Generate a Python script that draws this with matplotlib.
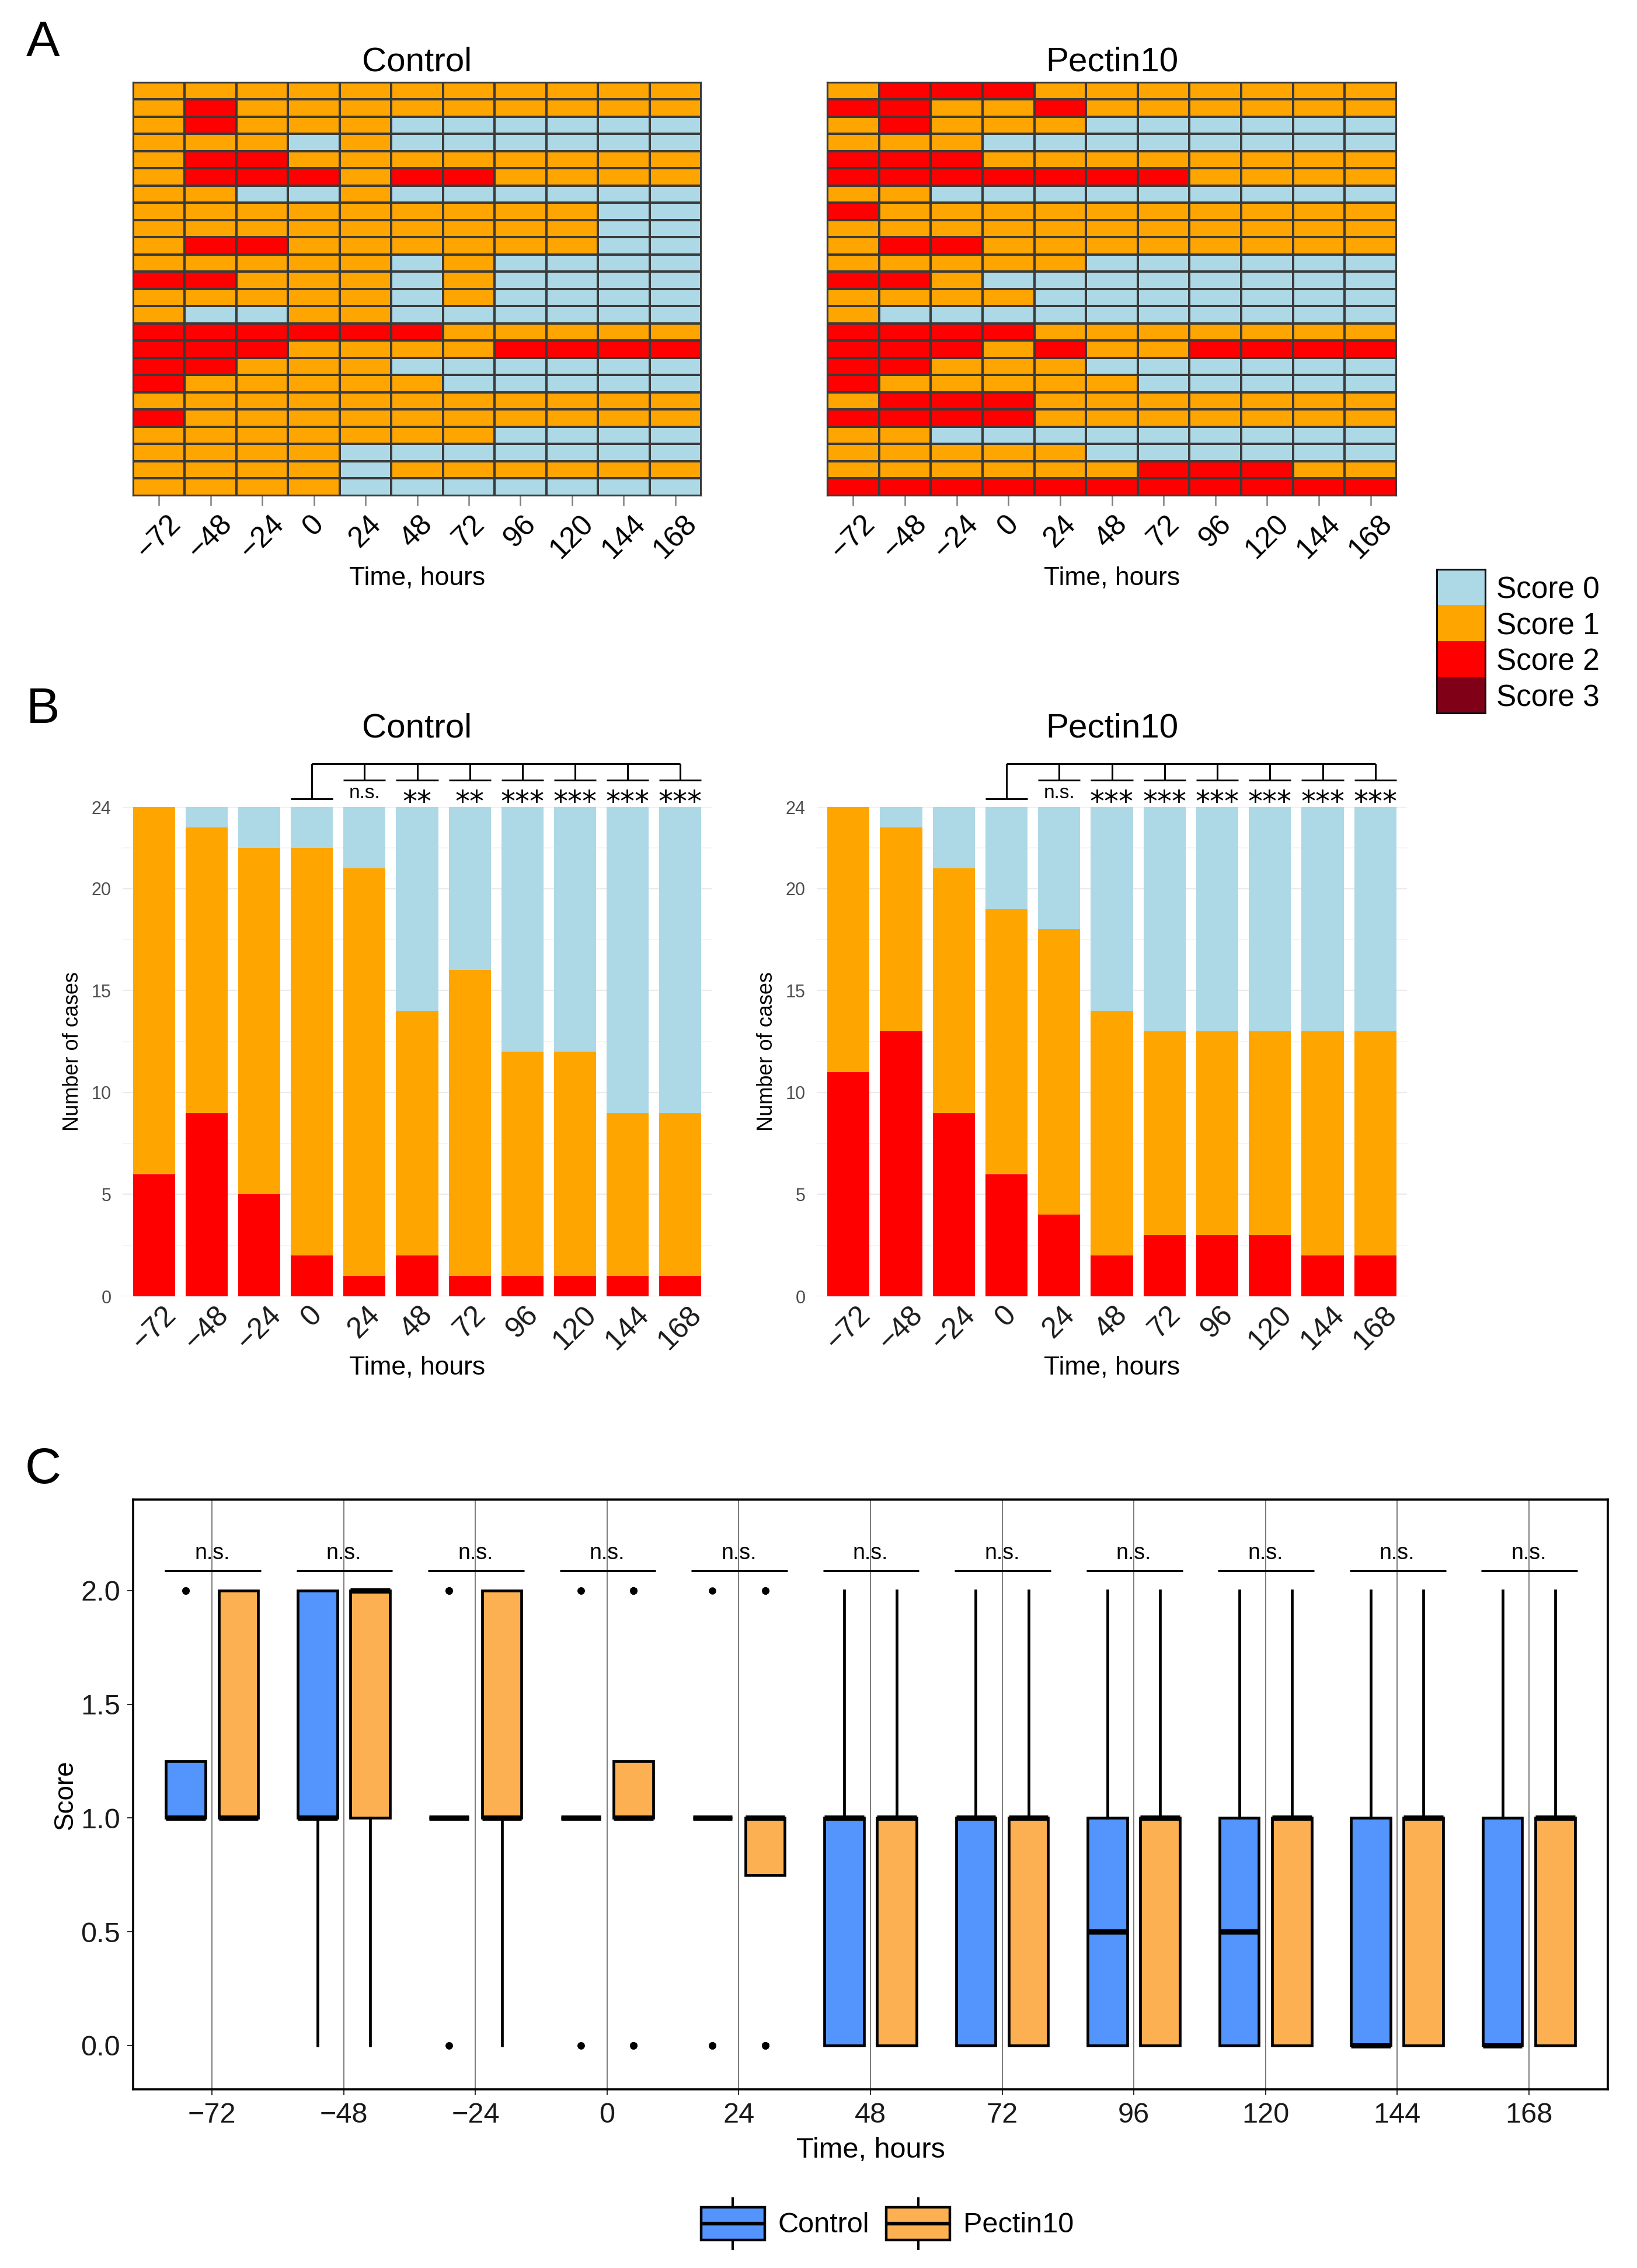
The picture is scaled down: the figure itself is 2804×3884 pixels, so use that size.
import numpy as np
import matplotlib
matplotlib.use("Agg")
import matplotlib.pyplot as plt
from matplotlib.colors import ListedColormap
from matplotlib.patches import Rectangle
from matplotlib.lines import Line2D
from matplotlib.legend_handler import HandlerBase

plt.rcParams['font.family'] = ['Liberation Sans', 'DejaVu Sans']

# ---------------- data ----------------
time_labels = ['\u221272', '\u221248', '\u221224', '0', '24', '48', '72', '96', '120', '144', '168']
group_names = ['Control', 'Pectin10']
score_labels = ['Score 0', 'Score 1', 'Score 2', 'Score 3']
score_colors = ['#ADD8E6', '#FFA500', '#FF0000', '#800018']
group_colors = ['#5394FD', '#FDB052']

# individual scores (rows = animals, columns = time points)
control_scores = [
    [1, 1, 1, 1, 1, 1, 1, 1, 1, 1, 1],
    [1, 2, 1, 1, 1, 1, 1, 1, 1, 1, 1],
    [1, 2, 1, 1, 1, 0, 0, 0, 0, 0, 0],
    [1, 1, 1, 0, 1, 0, 0, 0, 0, 0, 0],
    [1, 2, 2, 1, 1, 1, 1, 1, 1, 1, 1],
    [1, 2, 2, 2, 1, 2, 2, 1, 1, 1, 1],
    [1, 1, 0, 0, 1, 0, 0, 0, 0, 0, 0],
    [1, 1, 1, 1, 1, 1, 1, 1, 1, 0, 0],
    [1, 1, 1, 1, 1, 1, 1, 1, 1, 0, 0],
    [1, 2, 2, 1, 1, 1, 1, 1, 1, 0, 0],
    [1, 1, 1, 1, 1, 0, 1, 0, 0, 0, 0],
    [2, 2, 1, 1, 1, 0, 1, 0, 0, 0, 0],
    [1, 1, 1, 1, 1, 0, 1, 0, 0, 0, 0],
    [1, 0, 0, 1, 1, 0, 0, 0, 0, 0, 0],
    [2, 2, 2, 2, 2, 2, 1, 1, 1, 1, 1],
    [2, 2, 2, 1, 1, 1, 1, 2, 2, 2, 2],
    [2, 2, 1, 1, 1, 0, 0, 0, 0, 0, 0],
    [2, 1, 1, 1, 1, 1, 0, 0, 0, 0, 0],
    [1, 1, 1, 1, 1, 1, 1, 1, 1, 1, 1],
    [2, 1, 1, 1, 1, 1, 1, 1, 1, 1, 1],
    [1, 1, 1, 1, 1, 1, 1, 0, 0, 0, 0],
    [1, 1, 1, 1, 0, 0, 0, 0, 0, 0, 0],
    [1, 1, 1, 1, 0, 1, 1, 1, 1, 1, 1],
    [1, 1, 1, 1, 0, 0, 0, 0, 0, 0, 0],
]
pectin_scores = [
    [1, 2, 2, 2, 1, 1, 1, 1, 1, 1, 1],
    [2, 2, 1, 1, 2, 1, 1, 1, 1, 1, 1],
    [1, 2, 1, 1, 1, 0, 0, 0, 0, 0, 0],
    [1, 1, 1, 0, 0, 0, 0, 0, 0, 0, 0],
    [2, 2, 2, 1, 1, 1, 1, 1, 1, 1, 1],
    [2, 2, 2, 2, 2, 2, 2, 1, 1, 1, 1],
    [1, 1, 0, 0, 0, 0, 0, 0, 0, 0, 0],
    [2, 1, 1, 1, 1, 1, 1, 1, 1, 1, 1],
    [1, 1, 1, 1, 1, 1, 1, 1, 1, 1, 1],
    [1, 2, 2, 1, 1, 1, 1, 1, 1, 1, 1],
    [1, 1, 1, 1, 1, 0, 0, 0, 0, 0, 0],
    [2, 2, 1, 0, 0, 0, 0, 0, 0, 0, 0],
    [1, 1, 1, 1, 0, 0, 0, 0, 0, 0, 0],
    [1, 0, 0, 0, 0, 0, 0, 0, 0, 0, 0],
    [2, 2, 2, 2, 1, 1, 1, 1, 1, 1, 1],
    [2, 2, 2, 1, 2, 1, 1, 2, 2, 2, 2],
    [2, 2, 1, 1, 1, 0, 0, 0, 0, 0, 0],
    [2, 1, 1, 1, 1, 1, 0, 0, 0, 0, 0],
    [1, 2, 2, 2, 1, 1, 1, 1, 1, 1, 1],
    [2, 2, 2, 2, 1, 1, 1, 1, 1, 1, 1],
    [1, 1, 0, 0, 0, 0, 0, 0, 0, 0, 0],
    [1, 1, 1, 1, 1, 0, 0, 0, 0, 0, 0],
    [1, 1, 1, 1, 1, 1, 2, 2, 2, 1, 1],
    [2, 2, 2, 2, 2, 2, 2, 2, 2, 2, 2],
]
bar_sig_control = ['n.s.', '**', '**', '***', '***', '***', '***']
bar_sig_pectin = ['n.s.', '***', '***', '***', '***', '***', '***']
box_sig = ['n.s.'] * 11
ref_index = 3  # time 0 is the reference for panel B comparisons

# ---------------- figure ----------------
W, H = 2804, 3884
fig = plt.figure(figsize=(W / 100, H / 100), dpi=100)


def ax_px(x0, y0, x1, y1):
    return fig.add_axes([x0 / W, 1 - y1 / H, (x1 - x0) / W, (y1 - y0) / H])


cmap = ListedColormap(score_colors)

# ---------------- panel A: heatmaps ----------------
def heatmap(ax, scores, title):
    arr = np.array(scores)
    nr, nc = arr.shape
    ax.pcolormesh(np.arange(nc + 1), np.arange(nr + 1), arr, cmap=cmap,
                  vmin=-0.5, vmax=3.5, edgecolors='#3a3a3a', linewidth=1.6)
    ax.set_xlim(0, nc)
    ax.set_ylim(nr, 0)
    ax.set_xticks(np.arange(nc) + 0.5)
    ax.set_xticklabels(time_labels, rotation=45, ha='center', va='top', fontsize=36)
    ax.tick_params(axis='x', length=12, width=1.8, color='#808080', pad=6)
    ax.set_yticks([])
    for s in ax.spines.values():
        s.set_color('#3a3a3a')
        s.set_linewidth(1.6)
    ax.set_title(title, fontsize=42, pad=14)
    ax.set_xlabel('Time, hours', fontsize=32)
    ax.xaxis.set_label_coords(0.5, -0.199)
    ax.xaxis.label.set_va('center')


axA1 = ax_px(228, 141, 1201, 849)
heatmap(axA1, control_scores, group_names[0])
axA2 = ax_px(1417, 141, 2392, 849)
heatmap(axA2, pectin_scores, group_names[1])

# score legend
axL = ax_px(2461, 975, 2544, 1221)
axL.imshow(np.arange(len(score_labels)).reshape(-1, 1), cmap=cmap, vmin=-0.5, vmax=3.5,
           aspect='auto', interpolation='nearest')
axL.set_xticks([])
axL.yaxis.tick_right()
axL.set_yticks(np.arange(len(score_labels)))
axL.set_yticklabels(score_labels, fontsize=37)
axL.tick_params(axis='y', length=0, pad=14)
for s in axL.spines.values():
    s.set_linewidth(2.2)
    s.set_color('#111111')

# ---------------- panel B: stacked bars ----------------
def stacked(ax, scores, title, sig):
    arr = np.array(scores)
    n = arr.shape[1]
    x = np.arange(n)
    bottom = np.zeros(n)
    for k in [2, 1, 0]:
        cnt = (arr == k).sum(axis=0)
        ax.bar(x, cnt, bottom=bottom, width=0.8, color=score_colors[k], zorder=2, linewidth=0)
        bottom = bottom + cnt
    ax.set_xlim(-0.6, n - 0.4)
    ax.set_ylim(0, arr.shape[0])
    ax.set_yticks([0, 5, 10, 15, 20, 24])
    ax.set_yticks([2.5, 7.5, 12.5, 17.5, 22], minor=True)
    ax.grid(axis='y', which='major', color='#EBEBEB', linewidth=1.6, zorder=0)
    ax.grid(axis='y', which='minor', color='#F4F4F4', linewidth=1.2, zorder=0)
    ax.set_axisbelow(True)
    for s in ax.spines.values():
        s.set_visible(False)
    ax.tick_params(axis='y', which='both', length=0, labelsize=22, labelcolor='#4D4D4D', pad=14)
    ax.set_xticks(x)
    ax.set_xticklabels(time_labels, rotation=45, ha='center', va='top', fontsize=36, color='#1a1a1a')
    ax.tick_params(axis='x', length=0, pad=6)
    ax.set_xlabel('Time, hours', fontsize=32)
    ax.xaxis.set_label_coords(0.5, -0.1456)
    ax.xaxis.label.set_va('center')
    ax.set_ylabel('Number of cases', fontsize=26)
    ax.yaxis.set_label_coords(-0.085, 0.5)
    ax.yaxis.label.set_va('center')
    ax.text(0.5, 1.16, title, transform=ax.transAxes, ha='center', va='center', fontsize=42)
    # comparison brackets against the reference time point
    top = arr.shape[0]
    y_main, y_sub, y_ref, y_lab = top + 2.13, top + 1.32, top + 0.41, top + 0.66
    kw = dict(color='black', linewidth=2.2, clip_on=False, solid_capstyle='butt')
    ax.plot([ref_index, ref_index], [y_main, y_ref], **kw)
    ax.plot([ref_index - 0.4, ref_index + 0.4], [y_ref, y_ref], **kw)
    ax.plot([ref_index, n - 1], [y_main, y_main], **kw)
    for i, lab in zip(range(ref_index + 1, n), sig):
        ax.plot([i, i], [y_main, y_sub], **kw)
        ax.plot([i - 0.4, i + 0.4], [y_sub, y_sub], **kw)
        if lab == 'n.s.':
            ax.text(i, y_lab, lab, ha='center', va='center', fontsize=24, clip_on=False)
        else:
            ax.text(i, y_lab - 0.45, lab, ha='center', va='center', fontsize=36,
                    family='DejaVu Sans', clip_on=False)


axB1 = ax_px(210, 1382, 1219, 2220)
stacked(axB1, control_scores, group_names[0], bar_sig_control)
axB2 = ax_px(1399, 1382, 2410, 2220)
stacked(axB2, pectin_scores, group_names[1], bar_sig_pectin)

# ---------------- panel C: box plots ----------------
axC = ax_px(228, 2568, 2754, 3578)
n = len(time_labels)
xc = np.arange(n)
offsets = [-0.2, 0.2]
for scores, color, off in zip([control_scores, pectin_scores], group_colors, offsets):
    arr = np.array(scores)
    data = [arr[:, j] for j in range(n)]
    axC.boxplot(data, positions=xc + off, widths=0.3, patch_artist=True, showcaps=False,
                whis=1.5, manage_ticks=False,
                boxprops=dict(facecolor=color, edgecolor='black', linewidth=3.4),
                medianprops=dict(color='black', linewidth=6.5, solid_capstyle='butt'),
                whiskerprops=dict(color='black', linewidth=3.4),
                flierprops=dict(marker='o', markerfacecolor='black', markeredgecolor='black',
                                markersize=8))
axC.set_xlim(-0.6, n - 0.4)
axC.set_ylim(-0.193, 2.40)
axC.set_xticks(xc)
axC.set_xticklabels(time_labels, fontsize=35, color='#1a1a1a')
axC.set_yticks([0, 0.5, 1.0, 1.5, 2.0])
axC.set_yticklabels(['0.0', '0.5', '1.0', '1.5', '2.0'], fontsize=35, color='#1a1a1a')
axC.tick_params(axis='both', length=7, width=1.5, color='#333333', pad=9)
axC.grid(axis='x', color='#7a7a7a', linewidth=1.4)
axC.set_axisbelow(True)
for s in axC.spines.values():
    s.set_linewidth(2.6)
    s.set_color('black')
axC.set_xlabel('Time, hours', fontsize=35)
axC.xaxis.set_label_coords(0.5, -0.103)
axC.xaxis.label.set_va('center')
axC.set_ylabel('Score', fontsize=33)
axC.yaxis.set_label_coords(-0.046, 0.5)
axC.yaxis.label.set_va('center')
for i, lab in enumerate(box_sig):
    axC.plot([i - 0.36, i + 0.37], [2.088, 2.088], color='black', linewidth=2.2,
             solid_capstyle='butt')
    axC.text(i, 2.165, lab, ha='center', va='center', fontsize=27)


class BoxKey(HandlerBase):
    def create_artists(self, legend, orig_handle, xdescent, ydescent, width, height,
                       fontsize, trans):
        x0, y0 = -xdescent, -ydescent
        stub = height * 0.17
        rect = Rectangle((x0, y0 + stub), width, height - 2 * stub,
                         facecolor=orig_handle.get_facecolor(), edgecolor='black',
                         linewidth=3.2, transform=trans)
        xm = x0 + width / 2
        ym = y0 + height / 2
        med = Line2D([x0, x0 + width], [ym, ym], color='black', linewidth=4.5,
                     solid_capstyle='butt', transform=trans)
        w1 = Line2D([xm, xm], [y0 + height - stub, y0 + height], color='black',
                    linewidth=3.0, transform=trans)
        w2 = Line2D([xm, xm], [y0, y0 + stub], color='black', linewidth=3.0, transform=trans)
        return [w1, w2, rect, med]


handles = [Rectangle((0, 0), 1, 1, facecolor=c) for c in group_colors]
fig.legend(handles, group_names, handler_map={Rectangle: BoxKey()},
           loc='center', bbox_to_anchor=(1520 / W, 1 - 3808 / H), ncol=2, frameon=False,
           fontsize=35, handlelength=2.24, handleheight=2.33, handletextpad=0.47,
           columnspacing=0.6)

# panel letters
for lab, (px, py) in zip(['A', 'B', 'C'], [(74, 74), (74, 1216), (74, 2518)]):
    fig.text(px / W, 1 - py / H, lab, ha='center', va='center', fontsize=62)

fig.savefig('out.png', dpi=100, facecolor='white')
